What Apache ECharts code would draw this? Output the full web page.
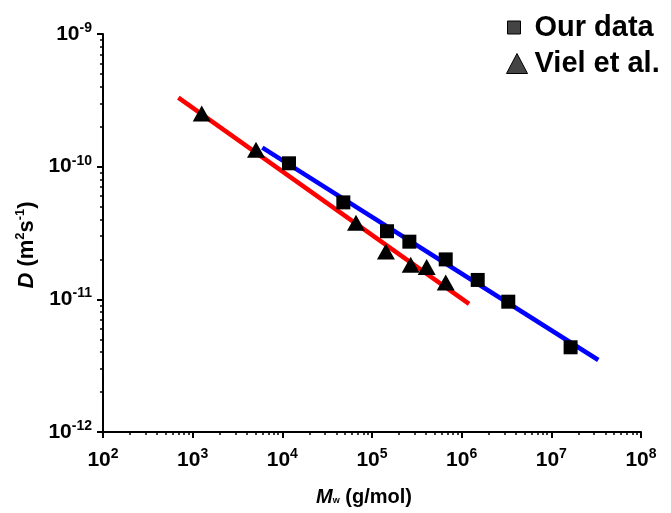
<!DOCTYPE html>
<html>
<head>
<meta charset="utf-8">
<script src="https://cdn.jsdelivr.net/npm/echarts@6/dist/echarts.min.js"></script>
<style>
  html, body { margin: 0; padding: 0; background: #fff; }
  #container { width: 671px; height: 513px; }
</style>
</head>
<body>
<div id="container"></div>
<script>
var dom = document.getElementById("container");
var chart = echarts.init(dom);

// Our data: [Mw (g/mol), D (m^2/s)]
const ourData = [
    [11870, 1.06e-10],
    [47900, 5.38e-11],
    [147000, 3.26e-11],
    [261000, 2.72e-11],
    [664000, 2.0e-11],
    [1510000, 1.40e-11],
    [3310000, 9.6e-12],
    [16400000, 4.35e-12]
];

// Viel et al.
const vielData = [
    [1262, 2.52e-10],
    [5085, 1.34e-10],
    [66300, 3.78e-11],
    [143000, 2.29e-11],
    [270000, 1.82e-11],
    [407000, 1.75e-11],
    [664000, 1.34e-11]
];

// fit lines (end points)
const redFit = [[692, 3.31e-10], [1210000, 9.23e-12]];
const blueFit = [[5980, 1.39e-10], [33400000, 3.49e-12]];

const xMin = 1e2, xMax = 1e8;
const yMin = 1e-12, yMax = 1e-9;

// minor tick positions (2..9 per decade)
function minorTicks(lo, hi) {
    var out = [];
    for (var e = lo; e < hi; e++) {
        for (var k = 2; k <= 9; k++) {
            out.push(k * Math.pow(10, e));
        }
    }
    return out;
}
const xMinor = minorTicks(2, 8);
const yMinor = minorTicks(-12, -9);

const font = "Liberation Sans, Arial, sans-serif";

function powLabel(v) {
    var e = Math.round(Math.log10(v));
    return "{b|10}{s|" + e + "}";
}

const labelRich = {
    b: { fontSize: 21, fontWeight: "bold", fontFamily: font, color: "#000" },
    s: { fontSize: 14, fontWeight: "bold", fontFamily: font, color: "#000", padding: [0, 0, 12, 0] }
};

const legendText = { fontSize: 29, fontWeight: "bold", fontFamily: font, color: "#000" };

var option = {
    animation: false,
    grid: {
        left: 103,
        right: 30,
        top: 34,
        bottom: 81,
        outerBoundsMode: "none"
    },
    legend: [
        {
            orient: "vertical",
            left: 502,
            top: 8,
            itemWidth: 13,
            itemHeight: 13,
            textStyle: Object.assign({ padding: [8, 0, 0, 9] }, legendText),
            data: [
                { name: "Our data", icon: "rect", itemStyle: { color: "#444", borderColor: "#000", borderWidth: 1 } }
            ]
        },
        {
            orient: "vertical",
            left: 501,
            top: 44,
            itemWidth: 21,
            itemHeight: 20,
            textStyle: Object.assign({ padding: [0, 0, 0, 2] }, legendText),
            data: [
                { name: "Viel et al.", icon: "triangle", itemStyle: { color: "#444", borderColor: "#000", borderWidth: 1 } }
            ]
        }
    ],
    xAxis: [
        {
            type: "log",
            logBase: 10,
            min: xMin,
            max: xMax,
            name: "{i|M}{w|w}{n| (g/mol)}",
            nameLocation: "middle",
            nameGap: 55,
            nameTextStyle: {
                padding: [0, 16, 0, 0],
                rich: {
                    i: { fontSize: 20, fontWeight: "bold", fontStyle: "italic", fontFamily: font, color: "#000" },
                    w: { fontSize: 9, fontWeight: "bold", fontFamily: font, color: "#000", padding: [8, 0, 0, 0] },
                    n: { fontSize: 20, fontWeight: "bold", fontFamily: font, color: "#000" }
                }
            },
            splitLine: { show: false },
            axisLine: { lineStyle: { color: "#000", width: 2 } },
            axisTick: { inside: false, length: 6, lineStyle: { color: "#000", width: 2 } },
            axisLabel: { margin: 15, formatter: powLabel, rich: labelRich }
        },
        {
            type: "log",
            logBase: 10,
            min: xMin,
            max: xMax,
            position: "bottom",
            axisLine: { show: false },
            splitLine: { show: false },
            axisLabel: { show: false },
            axisTick: { length: 3, customValues: xMinor, lineStyle: { color: "#000", width: 1.5 } }
        }
    ],
    yAxis: [
        {
            type: "log",
            logBase: 10,
            min: yMin,
            max: yMax,
            name: "{i|D}{n| (m}{s|2}{n|s}{s|-1}{n|)}",
            nameLocation: "middle",
            nameGap: 63,
            nameRotate: 90,
            nameTextStyle: {
                padding: [0, 24, 0, 0],
                rich: {
                    i: { fontSize: 22, fontWeight: "bold", fontStyle: "italic", fontFamily: font, color: "#000" },
                    n: { fontSize: 22, fontWeight: "bold", fontFamily: font, color: "#000" },
                    s: { fontSize: 13, fontWeight: "bold", fontFamily: font, color: "#000", padding: [0, 0, 13, 0] }
                }
            },
            splitLine: { show: false },
            axisLine: { lineStyle: { color: "#000", width: 2 } },
            axisTick: { inside: false, length: 6, lineStyle: { color: "#000", width: 2 } },
            axisLabel: { margin: 11, formatter: powLabel, rich: labelRich }
        },
        {
            type: "log",
            logBase: 10,
            min: yMin,
            max: yMax,
            position: "left",
            axisLine: { show: false },
            splitLine: { show: false },
            axisLabel: { show: false },
            axisTick: { length: 3, customValues: yMinor, lineStyle: { color: "#000", width: 1.5 } }
        }
    ],
    series: [
        {
            name: "red fit",
            type: "line",
            data: redFit,
            symbol: "none",
            lineStyle: { color: "#ff0000", width: 4.5 },
            z: 2
        },
        {
            name: "blue fit",
            type: "line",
            data: blueFit,
            symbol: "none",
            lineStyle: { color: "#0000ff", width: 4.5 },
            z: 2
        },
        {
            name: "Our data",
            type: "scatter",
            data: ourData,
            symbol: "rect",
            symbolSize: 14,
            itemStyle: { color: "#000", opacity: 1 },
            z: 3
        },
        {
            name: "Viel et al.",
            type: "scatter",
            data: vielData,
            symbol: "triangle",
            symbolSize: [18, 16],
            itemStyle: { color: "#000", opacity: 1 },
            z: 3
        }
    ]
};

chart.setOption(option);
</script>
</body>
</html>
